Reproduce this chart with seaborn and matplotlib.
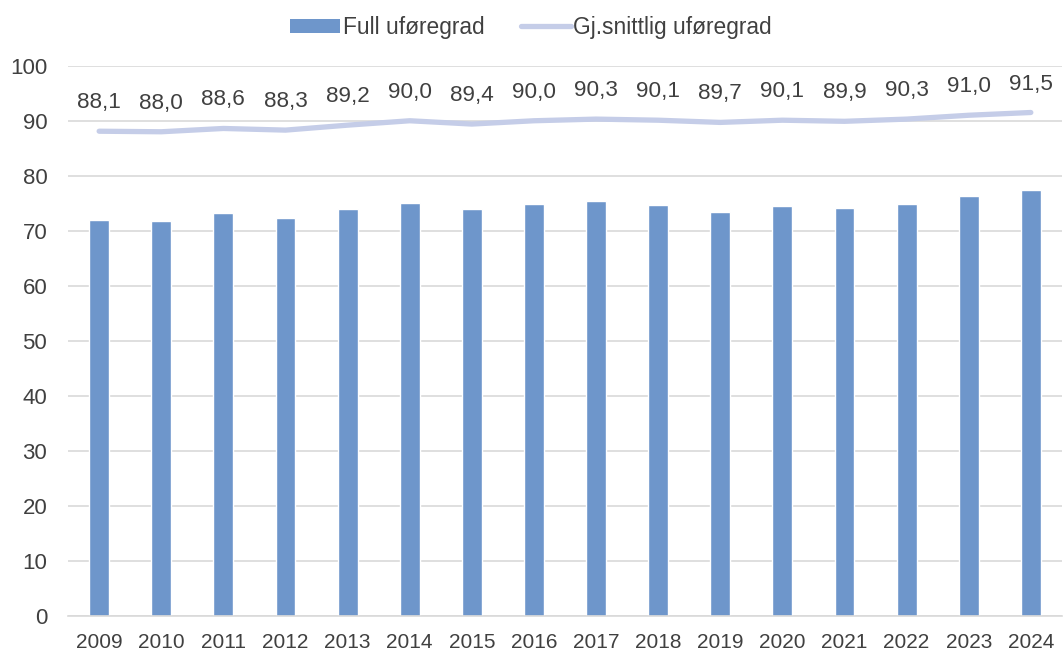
import pandas as pd
import matplotlib.pyplot as plt
import seaborn as sns
from matplotlib.patches import Patch
from matplotlib.lines import Line2D

# Data
years = ['2009', '2010', '2011', '2012', '2013', '2014', '2015', '2016',
         '2017', '2018', '2019', '2020', '2021', '2022', '2023', '2024']
full_ufore = [72.0, 71.8, 73.3, 72.3, 74.0, 75.1, 74.0, 74.9,
              75.4, 74.7, 73.4, 74.6, 74.2, 74.8, 76.3, 77.4]
snitt_ufore = [88.1, 88.0, 88.6, 88.3, 89.2, 90.0, 89.4, 90.0,
               90.3, 90.1, 89.7, 90.1, 89.9, 90.3, 91.0, 91.5]

df = pd.DataFrame({'year': years, 'full': full_ufore, 'snitt': snitt_ufore})

bar_color = '#6e96cb'
line_color = '#c5cde8'
text_color = '#404040'
grid_color = '#d9d9d9'

sns.set_style('white')
plt.rcParams['font.family'] = ['Liberation Sans', 'DejaVu Sans']

fig = plt.figure(figsize=(10.64, 6.57), dpi=100)
ax = fig.add_axes([0.064, 0.062, 0.934, 0.838])

sns.barplot(data=df, x='year', y='full', color=bar_color, width=0.32,
            saturation=1, ax=ax, zorder=2)
sns.lineplot(data=df, x='year', y='snitt', color=line_color, linewidth=3.8,
             ax=ax, zorder=3, sort=False)

# Data labels for the line
for i, (yr, v) in enumerate(zip(years, snitt_ufore)):
    ax.annotate(f"{v:.1f}".replace('.', ','), xy=(i, v), xytext=(0, 20.5),
                textcoords='offset points', ha='center', va='center',
                fontsize=16.2, color=text_color)

ax.set_ylim(0, 100)
ax.set_xlim(-0.5, len(years) - 0.5)
ax.set_yticks(range(0, 101, 10))
ax.yaxis.grid(True, color=grid_color, linewidth=1.2, zorder=0)
ax.set_axisbelow(True)
for s in ['top', 'right', 'left']:
    ax.spines[s].set_visible(False)
ax.spines['bottom'].set_color(grid_color)
ax.spines['bottom'].set_linewidth(1.2)
ax.tick_params(axis='both', length=0, labelcolor=text_color)
ax.tick_params(axis='y', pad=15, labelsize=16)
ax.tick_params(axis='x', pad=12, labelsize=15)
ax.set_xlabel('')
ax.set_ylabel('')
if ax.get_legend() is not None:
    ax.get_legend().remove()

handles = [Patch(facecolor=bar_color, edgecolor='none'),
           Line2D([0], [0], color=line_color, linewidth=3.8)]
fig.legend(handles, ['Full uføregrad', 'Gj.snittlig uføregrad'],
           loc='center', bbox_to_anchor=(0.499, 0.958), ncol=2,
           frameon=False, fontsize=16.4, labelcolor=text_color,
           handlelength=2.2, handleheight=0.6, handletextpad=0.1,
           columnspacing=1.6, borderpad=0)

plt.savefig('out.png', dpi=100)
